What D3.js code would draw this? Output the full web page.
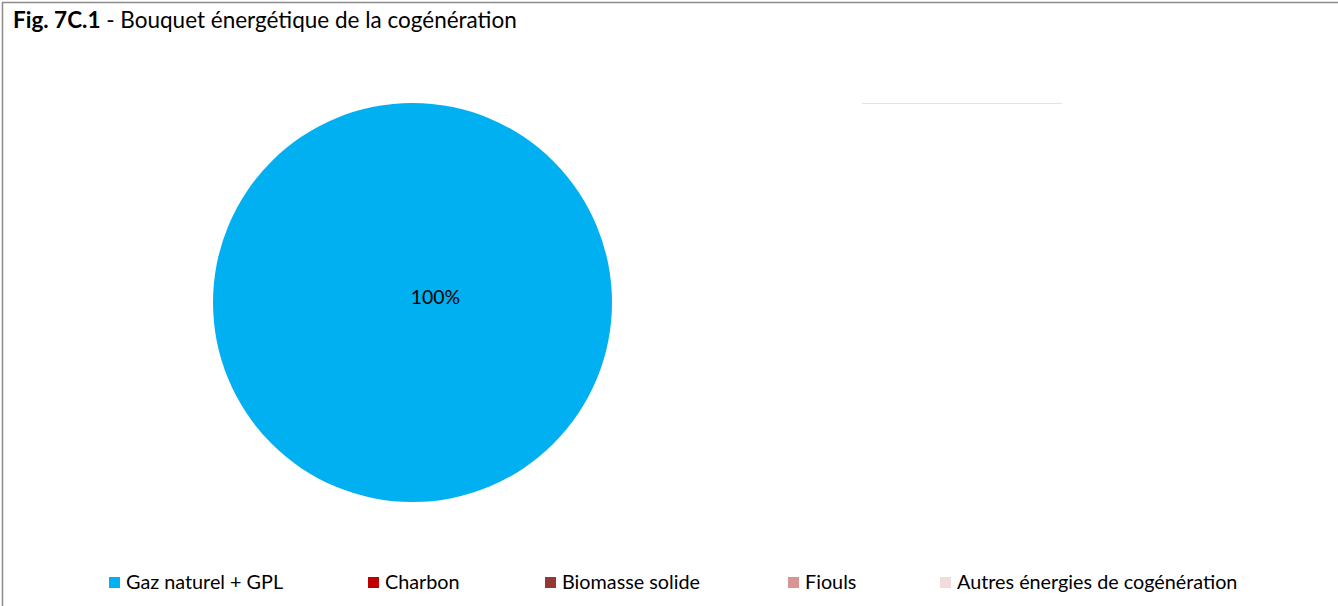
<!DOCTYPE html>
<html>
<head>
<meta charset="utf-8">
<script src="https://cdn.jsdelivr.net/npm/d3@7"></script>
<style>
  body { margin: 0; background: #fff; }
  svg { display: block; }
  text { font-family: Lato, "Open Sans", sans-serif; fill: #000; }
</style>
</head>
<body>
<div id="chart"></div>
<script>
// données
const categories = ["Gaz naturel + GPL", "Charbon", "Biomasse solide", "Fiouls", "Autres énergies de cogénération"];
const values = [100, 0, 0, 0, 0];
const colors = ["#00B0F0", "#C00000", "#953735", "#D99594", "#F2DCDB"];
const legendX = [109, 368, 545, 788, 940];

const width = 1338;
const height = 606;

const svg = d3.select("#chart")
  .append("svg")
  .attr("width", width)
  .attr("height", height);

// cadre du graphique (le bord droit sort de l'image)
svg.append("rect")
  .attr("x", 2.5)
  .attr("y", 2.5)
  .attr("width", width + 10)
  .attr("height", height)
  .attr("fill", "#fff")
  .attr("stroke", "#8c8c8c")
  .attr("stroke-width", 1.5);

// titre
const title = svg.append("text")
  .attr("x", 13)
  .attr("y", 28)
  .style("font-size", "22.5px");
title.append("tspan").style("font-weight", "bold").text("Fig. 7C.1");
title.append("tspan").text(" - Bouquet énergétique de la cogénération");

const data = categories.map((c, i) => ({ name: c, value: values[i], color: colors[i] }));

const radius = 199.5;
const cx = 412.5;
const cy = 302.5;

const pie = d3.pie()
  .value((d) => d.value)
  .sort(null);

const arc = d3.arc().innerRadius(0).outerRadius(radius);

const g = svg.append("g").attr("transform", `translate(${cx},${cy})`);

const arcs = pie(data);

g.selectAll(".slice")
  .data(arcs)
  .enter()
  .append("path")
  .attr("class", "slice")
  .attr("d", arc)
  .attr("fill", (d) => d.data.color);

// étiquette de la part non nulle
g.selectAll(".label")
  .data(arcs.filter((d) => d.data.value > 0))
  .enter()
  .append("text")
  .attr("class", "label")
  .attr("x", 23)
  .attr("y", 1)
  .attr("text-anchor", "middle")
  .style("font-size", "19.4px")
  .text((d) => `${Math.round((d.data.value / d3.sum(values)) * 100)}%`);

// trait résiduel (parts nulles)
svg.append("line")
  .attr("x1", 862)
  .attr("x2", 1062)
  .attr("y1", 103.5)
  .attr("y2", 103.5)
  .attr("stroke", colors[4])
  .attr("stroke-width", 1);

// légende
const legend = svg.selectAll(".legend")
  .data(data)
  .enter()
  .append("g")
  .attr("class", "legend")
  .attr("transform", (d, i) => `translate(${legendX[i]},577)`);

legend.append("rect")
  .attr("width", 11)
  .attr("height", 11)
  .attr("fill", (d) => d.color);

legend.append("text")
  .attr("x", 17)
  .attr("y", 12)
  .style("font-size", "19.8px")
  .text((d) => d.name);
</script>
</body>
</html>
